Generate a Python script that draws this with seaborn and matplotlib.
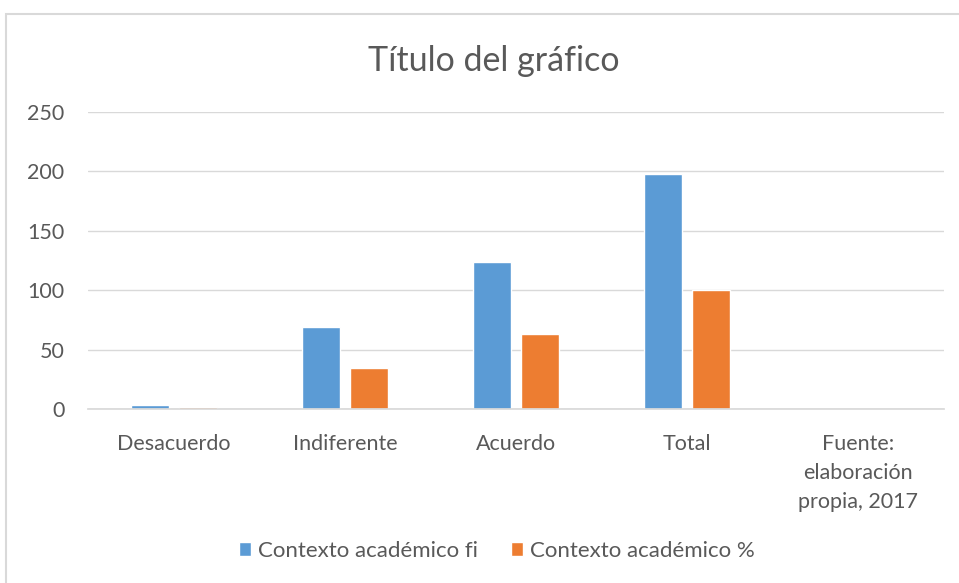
import pandas as pd
import seaborn as sns
import matplotlib.pyplot as plt
from matplotlib.patches import Rectangle

categorias = ['Desacuerdo', 'Indiferente', 'Acuerdo', 'Total', 'Fuente:\nelaboración\npropia, 2017']
fi = [4, 69, 124, 198, None]
porcentaje = [2, 35, 63, 100, None]
series = ['Contexto académico fi', 'Contexto académico %']
colores = ['#5B9BD5', '#ED7D31']
yticks = [0, 50, 100, 150, 200, 250]

df = pd.DataFrame({
    'categoria': categorias * 2,
    'valor': fi + porcentaje,
    'serie': [series[0]] * len(categorias) + [series[1]] * len(categorias),
})

sns.set_theme(style='white')
plt.rcParams['font.family'] = ['Lato', 'DejaVu Sans']
gris = '#595959'

fig = plt.figure(figsize=(9.59, 5.83), dpi=100)
ax = fig.add_axes([0.092, 0.298, 0.892, 0.51])

sns.barplot(data=df, x='categoria', y='valor', hue='serie', order=categorias,
            hue_order=series, palette=colores, width=0.56, gap=0.2,
            saturation=1, ax=ax, legend=True)

ax.set_ylim(0, 250)
ax.set_yticks(yticks)
ax.set_xlim(-0.5, len(categorias) - 0.5)
ax.yaxis.grid(True, color='#d9d9d9', linewidth=1)
ax.set_axisbelow(True)
for s in ['top', 'right', 'left']:
    ax.spines[s].set_visible(False)
ax.spines['bottom'].set_color('#d9d9d9')
ax.set_xlabel('')
ax.set_ylabel('')
ax.tick_params(axis='y', labelsize=15.5, colors=gris, pad=17, length=0)
ax.tick_params(axis='x', labelsize=15.5, colors=gris, pad=18, length=0)
for lbl in ax.get_xticklabels():
    lbl.set_linespacing(1.55)
    lbl.set_verticalalignment('top')

handles, labels = ax.get_legend_handles_labels()
ax.get_legend().remove()
fig.legend(handles, labels, loc='center', bbox_to_anchor=(0.518, 0.055), ncol=2,
           frameon=False, fontsize=16, labelcolor=gris, handlelength=0.55,
           handleheight=0.55, handletextpad=0.3, columnspacing=1.5)

fig.text(0.515, 0.895, 'Título del gráfico', ha='center', va='center', fontsize=24.5, color=gris)

fig.patches.append(Rectangle((6 / 959, -0.1), 1.2, 1.1 - 14 / 583, transform=fig.transFigure,
                             fill=False, edgecolor='#d9d9d9', linewidth=1.5))

fig.savefig('out.png', dpi=100)
